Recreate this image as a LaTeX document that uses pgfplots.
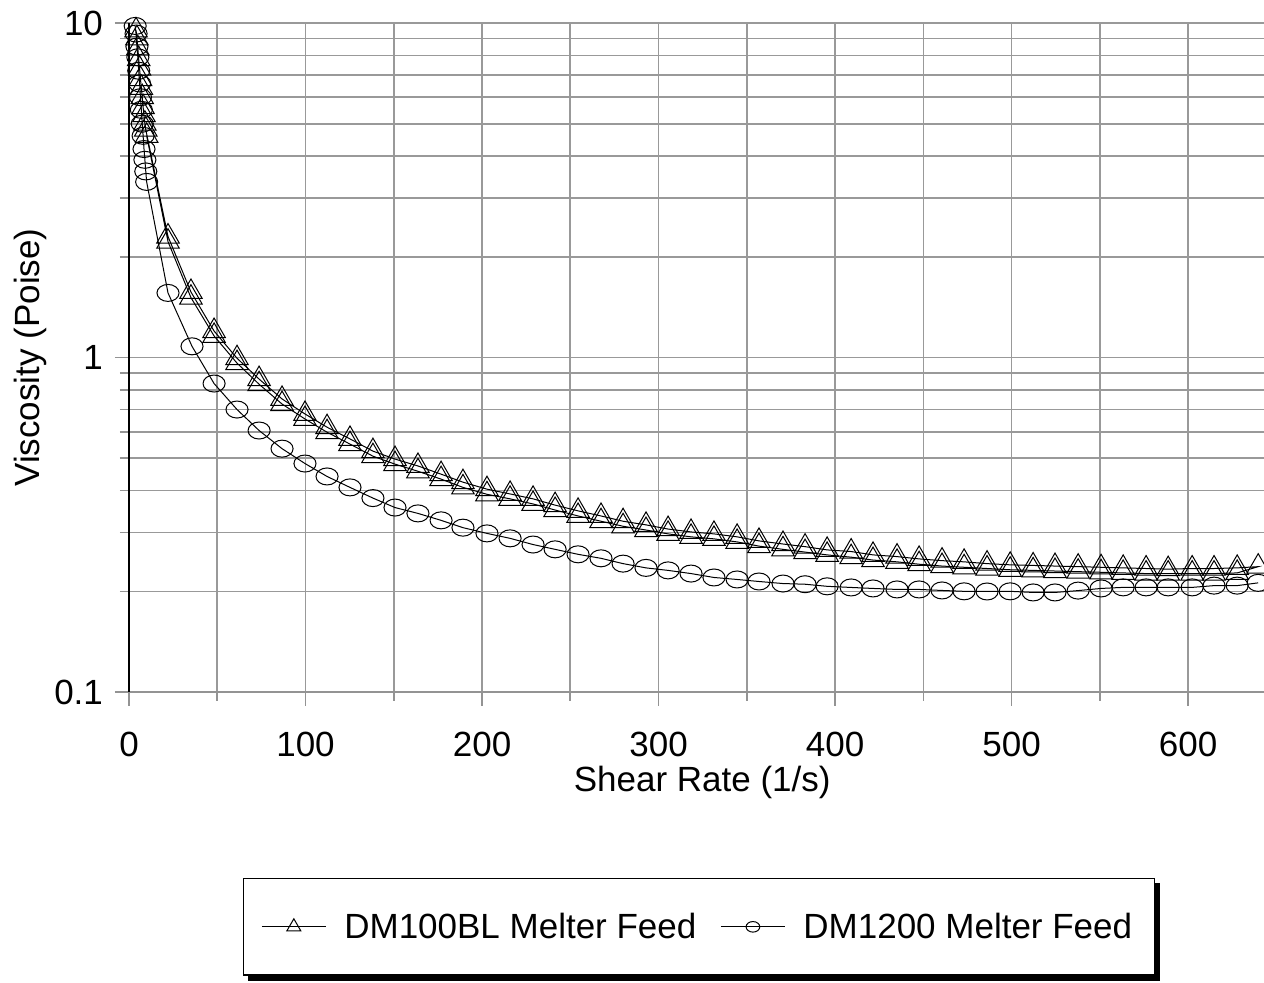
\documentclass[border=0pt]{standalone}
\usepackage{pgfplots}
\pgfplotsset{compat=1.18}
\usepackage{fontspec}
\setmainfont{Liberation Sans}
\usetikzlibrary{backgrounds}
\newcommand{\lbl}{\fontsize{17.5}{21}\selectfont}
\begin{document}
\begin{tikzpicture}
\begin{axis}[
  scale only axis, width=567.5pt, height=334.5pt,
  ymode=log, xmin=0, xmax=643, ymin=0.1, ymax=10,
  axis lines*=left,
  x axis line style={draw=gray!85, line width=0.8pt},
  y axis line style={draw=black, line width=0.8pt},
  xtick={0,100,...,600},
  minor xtick={50,150,...,650},
  ytick={0.1,1,10},
  minor ytick={0.2,0.3,0.4,0.5,0.6,0.7,0.8,0.9,2,3,4,5,6,7,8,9},
  log ticks with fixed point,
  /pgf/number format/assume math mode=true,
  grid=both,
  major grid style={gray!80, line width=0.8pt},
  minor grid style={gray!80, line width=0.8pt},
  tick align=outside,
  tick style={gray!85, line width=0.8pt},
  major tick length=7pt, minor tick length=4.5pt,
  tick label style={font=\lbl},
  xticklabel style={yshift=-9.5pt},
  yticklabel style={xshift=-2.5pt},
  xlabel={Shear Rate (1/s)}, ylabel={Viscosity (Poise)},
  label style={font=\lbl},
  xlabel style={at={(axis description cs:0.505,-0.135)}, anchor=center},
  ylabel style={at={(axis description cs:-0.0872,0.5)}, anchor=center},
  clip=false,
  legend columns=2,
  legend style={at={(axis description cs:0.502,-0.351)}, anchor=center,
    name=leg,
    font=\fontsize{17.5}{21}\selectfont, draw=black, line width=0.6pt, fill=white,
    inner xsep=9pt, inner ysep=15pt,
    /tikz/every odd column/.append style={column sep=7pt},
    /tikz/every even column/.append style={column sep=10pt}},
  legend image code/.code={
    \draw[#1,mark=none] (0pt,0pt) -- (32pt,0pt);
    \draw[#1,every mark/.append style={scale=0.62}] plot coordinates {(16pt,0pt)};
  },
]
\addplot[black, line width=0.5pt, mark=triangle, mark size=6.5pt,
  mark options={line width=0.5pt}] coordinates {
(4.0,9.5)(4.5,9.0)(5.0,8.4)(5.5,7.8)(6.0,7.3)(6.5,6.8)(7.0,6.4)(7.5,6.0)(8.0,5.6)(8.5,5.3)(9.0,5.0)(9.5,4.8)
(22.1,2.30)(35.1,1.57)(48.2,1.20)(61.2,0.995)(73.7,0.862)(86.7,0.752)(99.7,0.678)(112.2,0.619)(125.2,0.571)(138.2,0.525)
(150.7,0.497)(163.7,0.474)(176.8,0.448)(189.2,0.424)(202.8,0.404)(215.9,0.391)(228.9,0.378)(241.4,0.362)(254.4,0.348)(267.4,0.336)
(279.9,0.324)(292.9,0.316)(305.4,0.307)(318.4,0.301)(331.4,0.297)(344.5,0.291)(356.9,0.283)(370.5,0.277)(383.0,0.272)(395.5,0.266)
(409.1,0.263)(421.5,0.257)(435.1,0.254)(447.6,0.250)(460.6,0.247)(473.1,0.245)(486.1,0.242)(499.2,0.240)(512.2,0.239)(524.6,0.238)
(537.7,0.237)(550.7,0.236)(563.2,0.235)(576.2,0.234)(588.7,0.233)(602.3,0.234)(614.7,0.234)(627.8,0.235)(639.7,0.237)
(627.8,0.227)(614.7,0.226)(602.3,0.226)(588.7,0.226)(576.2,0.226)(563.2,0.227)(550.7,0.228)(537.7,0.229)(524.6,0.230)
(512.2,0.231)(499.2,0.232)(486.1,0.234)(473.1,0.236)(460.6,0.238)(447.6,0.241)(435.1,0.245)(421.5,0.248)(409.1,0.253)(395.5,0.257)
(383.0,0.262)(370.5,0.267)(356.9,0.273)(344.5,0.281)(331.4,0.287)(318.4,0.291)(305.4,0.297)(292.9,0.305)(279.9,0.313)(267.4,0.324)
(254.4,0.336)(241.4,0.350)(228.9,0.365)(215.9,0.378)(202.8,0.390)(189.2,0.409)(176.8,0.433)(163.7,0.457)(150.7,0.480)(138.2,0.507)
(125.2,0.551)(112.2,0.598)(99.7,0.655)(86.7,0.726)(73.7,0.832)(61.2,0.962)(48.2,1.16)(35.1,1.51)(22.1,2.22)(10.0,4.6)
};
\addlegendentry{DM100BL Melter Feed}
\addplot[black, line width=0.5pt, mark=o, mark size=4.25pt,
  mark options={line width=0.5pt, xscale=1.3}] coordinates {
(3.5,9.8)(4.0,9.3)(4.5,8.5)(5.0,7.9)(5.5,7.2)(6.0,6.6)(6.5,6.0)(7.0,5.5)(7.5,5.0)(8.0,4.6)(8.5,4.2)(9.0,3.9)(9.5,3.6)(10.0,3.35)
(22.1,1.56)(35.7,1.08)(48.2,0.836)(61.2,0.699)(73.7,0.605)(86.7,0.534)(99.7,0.482)(112.2,0.441)(125.2,0.409)(138.2,0.380)
(150.7,0.356)(163.7,0.342)(176.8,0.326)(189.2,0.310)(202.8,0.298)(215.9,0.288)(228.9,0.276)(241.4,0.267)(254.4,0.258)(267.4,0.251)
(279.9,0.242)(292.9,0.235)(305.4,0.231)(318.4,0.226)(331.4,0.220)(344.5,0.217)(356.9,0.214)(370.5,0.211)(383.0,0.210)(395.5,0.207)
(409.1,0.2054)(421.5,0.204)(435.1,0.2026)(447.6,0.2026)(460.6,0.2012)(473.1,0.200)(486.1,0.1998)(499.2,0.200)(512.2,0.1985)(524.6,0.1985)
(537.7,0.201)(550.7,0.204)(563.2,0.2055)(576.2,0.2055)(588.7,0.2055)(602.3,0.2055)(614.7,0.208)(627.8,0.208)(639.7,0.212)
};
\addlegendentry{DM1200 Melter Feed}
\end{axis}
\begin{scope}[on background layer]
\fill[black] ([shift={(2.5pt,-2.5pt)}]leg.south west) rectangle ([shift={(2.5pt,-2.5pt)}]leg.north east);
\end{scope}
\pgfresetboundingbox
\path (-64.5pt,-145pt) rectangle (567.5pt,346pt);
\end{tikzpicture}
\end{document}
